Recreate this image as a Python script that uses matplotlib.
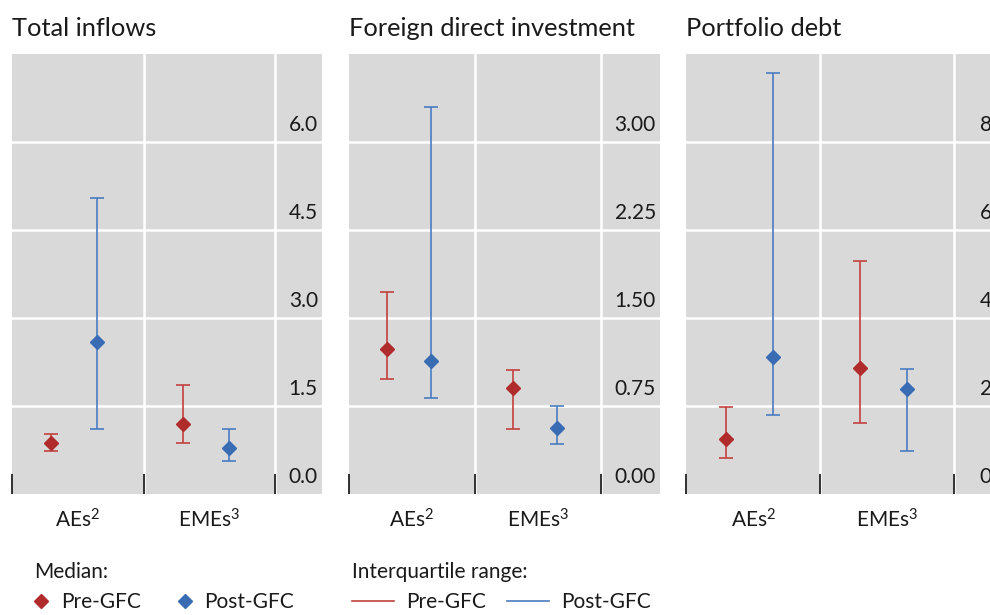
import matplotlib
matplotlib.use('Agg')
import matplotlib.pyplot as plt
from matplotlib.lines import Line2D

plt.rcParams['font.family'] = ['Lato', 'DejaVu Sans']
plt.rcParams['mathtext.fontset'] = 'custom'
plt.rcParams['mathtext.rm'] = 'Lato'
plt.rcParams['mathtext.default'] = 'regular'
plt.rcParams['text.color'] = '#1a1a1a'

# data: median and interquartile range per group
groups = [r'AEs$^{2}$', r'EMEs$^{3}$']
titles = ['Total inflows', 'Foreign direct investment', 'Portfolio debt']

pre_med = [[0.87, 1.19], [1.24, 0.90], [1.25, 2.86]]
pre_lo = [[0.73, 0.87], [0.98, 0.55], [0.82, 1.61]]
pre_hi = [[1.02, 1.86], [1.72, 1.06], [1.98, 5.30]]

post_med = [[2.59, 0.78], [1.13, 0.56], [3.11, 2.39]]
post_lo = [[1.11, 0.56], [0.82, 0.43], [1.80, 0.98]]
post_hi = [[5.05, 1.11], [3.30, 0.75], [9.57, 2.84]]

yticks = [[0, 1.5, 3.0, 4.5, 6.0], [0, 0.75, 1.5, 2.25, 3.0], [0, 2, 4, 6, 8]]
ytick_labels = [['0.0', '1.5', '3.0', '4.5', '6.0'],
                ['0.00', '0.75', '1.50', '2.25', '3.00'],
                ['0', '2', '4', '6', '8']]
ymax = [7.5, 3.75, 10]

# layout (pixels): left edge, right edge, width of label column (in category units)
W, H = 990, 615
panels_px = [(12, 322, 0.357), (349, 660, 0.468), (686, 996, 0.31)]
top_px, bot_px = 54, 494

red_line, red_mark = '#c2413f', '#b02c2c'
blue_line, blue_mark = '#4a7cc0', '#3a6cb3'

fig = plt.figure(figsize=(W / 100, H / 100), dpi=100)

for i, (x0, x1, col) in enumerate(panels_px):
    ax = fig.add_axes([x0 / W, 1 - bot_px / H, (x1 - x0) / W, (bot_px - top_px) / H])
    ax.set_facecolor('#d9d9d9')
    xmax = 2 + col
    ax.set_xlim(0, xmax)
    ax.set_ylim(0, ymax[i])
    for s in ax.spines.values():
        s.set_visible(False)
    for y in yticks[i][1:]:
        ax.axhline(y, color='white', lw=1.8, zorder=1)
    for xv in [1, 2]:
        ax.axvline(xv, color='white', lw=1.8, zorder=1)
    ax.set_yticks([])
    ax.set_xticks([0, 1, 2])
    ax.tick_params(axis='x', direction='in', length=14.5, width=1.3, color='#222222',
                   labelbottom=False)
    for y, lab in zip(yticks[i], ytick_labels[i]):
        ax.annotate(lab, xy=(xmax, y), xytext=(-3, 5), textcoords='offset points',
                    ha='right', va='bottom', fontsize=15, annotation_clip=False)

    xs = [0.30, 1.30]
    xs2 = [0.65, 1.65]
    pm, pl, ph = pre_med[i], pre_lo[i], pre_hi[i]
    qm, ql, qh = post_med[i], post_lo[i], post_hi[i]
    ax.errorbar(xs, pm, yerr=[[m - l for m, l in zip(pm, pl)], [h - m for m, h in zip(pm, ph)]],
                fmt='none', ecolor=red_line, elinewidth=1.2, capsize=5, capthick=1.2, zorder=3)
    ax.errorbar(xs2, qm, yerr=[[m - l for m, l in zip(qm, ql)], [h - m for m, h in zip(qm, qh)]],
                fmt='none', ecolor=blue_line, elinewidth=1.2, capsize=5, capthick=1.2, zorder=3)
    ax.plot(xs, pm, 'D', color=red_mark, ms=7, zorder=4)
    ax.plot(xs2, qm, 'D', color=blue_mark, ms=7, zorder=4)

    for j, g in enumerate(groups):
        ax.text(j + 0.5, -0.058, g, transform=ax.get_xaxis_transform(),
                ha='center', va='center', fontsize=15)

    fig.text(x0 / W, 1 - 28 / H, titles[i], ha='left', va='center', fontsize=18.3)

# legends
med_handles = [Line2D([], [], ls='none', marker='D', ms=7, color=red_mark),
               Line2D([], [], ls='none', marker='D', ms=7, color=blue_mark)]
leg1 = fig.legend(med_handles, ['Pre-GFC', 'Post-GFC'], title='Median:', ncol=2,
                  loc='upper left', bbox_to_anchor=(34 / W, 1 - 562 / H), frameon=False,
                  fontsize=15, title_fontsize=15, handlelength=0.7, handletextpad=0.6,
                  columnspacing=1.75, borderpad=0, borderaxespad=0, alignment='left')
iqr_handles = [Line2D([], [], color=red_line, lw=1.2),
               Line2D([], [], color=blue_line, lw=1.2)]
leg2 = fig.legend(iqr_handles, ['Pre-GFC', 'Post-GFC'], title='Interquartile range:', ncol=2,
                  loc='upper left', bbox_to_anchor=(352 / W, 1 - 562 / H), frameon=False,
                  fontsize=15, title_fontsize=15, handlelength=2.0, handletextpad=0.6,
                  columnspacing=1.0, borderpad=0, borderaxespad=0, alignment='left')

fig.savefig('out.png', dpi=100)
